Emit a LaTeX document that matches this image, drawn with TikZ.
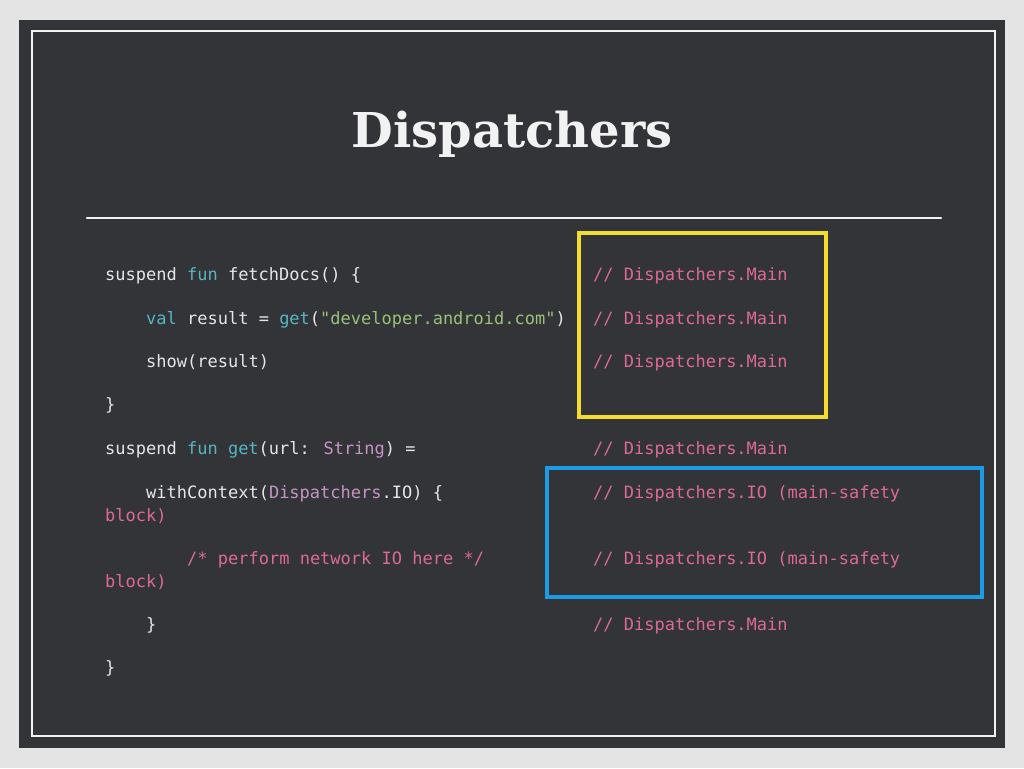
\documentclass[tikz,border=0pt]{standalone}
\usepackage{fontspec}
\usepackage{tikz}
\newfontfamily\codefont{DejaVu Sans Mono}
\newfontfamily\titlefont{DejaVu Serif}

\definecolor{paper}{HTML}{E4E4E4}
\definecolor{slate}{HTML}{323437}
\definecolor{chalk}{HTML}{F2F2F2}
\definecolor{codewhite}{HTML}{E6E6E6}
\definecolor{kwcyan}{HTML}{56B6C2}
\definecolor{strgreen}{HTML}{98C379}
\definecolor{typepurple}{HTML}{C594C5}
\definecolor{cmtpink}{HTML}{DE6A92}
\definecolor{mainyellow}{HTML}{F3DC2E}
\definecolor{ioblue}{HTML}{1C9BE6}

\tikzset{
  codeline/.style={anchor=base west, inner sep=0pt, text=codewhite,
    font=\codefont\fontsize{17}{20}\selectfont},
  cmtline/.style={codeline, text=cmtpink},
}

\begin{document}
\begin{tikzpicture}[x=1pt, y=-1pt]
\useasboundingbox (0,0) rectangle (1024,768);

\fill[paper] (0,0) rectangle (1024,768);
\fill[slate] (19,20) rectangle (1005,748);
\draw[chalk, line width=2pt] (32,31) rectangle (995,736);

\node[anchor=base, inner sep=0pt, text=chalk] (title) at (512,147)
  {\titlefont\bfseries\fontsize{48}{52}\selectfont Dispatchers};
\draw[chalk, line width=2.5pt, line cap=round] (87,218) -- (941,218);

% code
\node[codeline] (c1) at (105,280) {suspend \textcolor{kwcyan}{fun} fetchDocs() \{};
\node[codeline] (c2) at (146,324) {\textcolor{kwcyan}{val} result = \textcolor{kwcyan}{get}(\textcolor{strgreen}{"developer.android.com"})};
\node[codeline] (c3) at (146,367) {show(result)};
\node[codeline] (c4) at (105,410) {\}};
\node[codeline] (c5) at (105,454) {suspend \textcolor{kwcyan}{fun} \textcolor{kwcyan}{get}(url: \textcolor{typepurple}{String}) =};
\node[codeline] (c6) at (146,498) {withContext(\textcolor{typepurple}{Dispatchers}.IO) \{};
\node[cmtline] (c7) at (105,521) {block)};
\node[cmtline] (c8) at (187,564) {/* perform network IO here */};
\node[cmtline] (c9) at (105,587) {block)};
\node[codeline] (c10) at (146,630) {\}};
\node[codeline] (c11) at (105,673) {\}};

% comments
\node[cmtline] (m1) at (593,280) {// Dispatchers.Main};
\node[cmtline] (m2) at (593,324) {// Dispatchers.Main};
\node[cmtline] (m3) at (593,367) {// Dispatchers.Main};
\node[cmtline] (m5) at (593,454) {// Dispatchers.Main};
\node[cmtline] (m6) at (593,498) {// Dispatchers.IO (main-safety};
\node[cmtline] (m8) at (593,564) {// Dispatchers.IO (main-safety};
\node[cmtline] (m10) at (593,630) {// Dispatchers.Main};

\draw[mainyellow, line width=4pt] (579,233) rectangle (826,417);
\draw[ioblue, line width=4pt] (547,468) rectangle (982,597);

\end{tikzpicture}
\end{document}
